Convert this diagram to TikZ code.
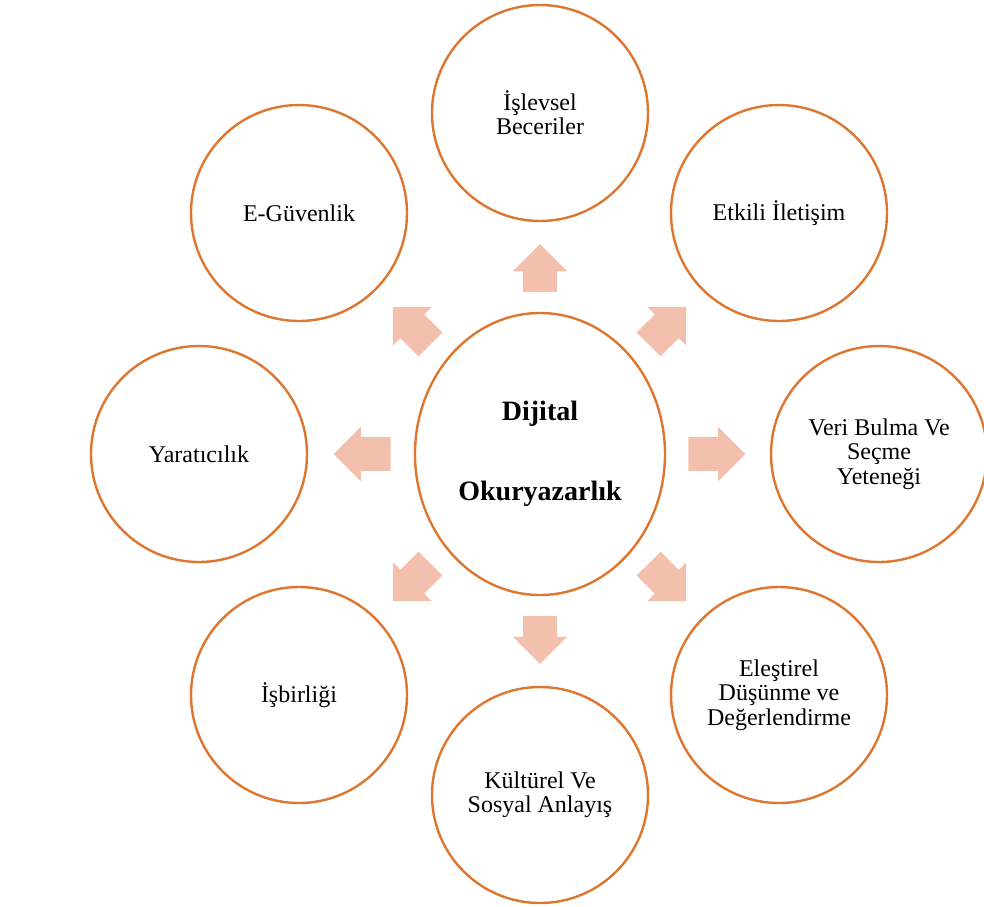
\documentclass[tikz,border=0pt]{standalone}
\usepackage{fontspec}
\setmainfont{Liberation Serif}
\usetikzlibrary{shapes.geometric,shapes.arrows}

\definecolor{ringorange}{RGB}{221,118,48}
\definecolor{flowpink}{RGB}{244,192,174}

\begin{document}
\begin{tikzpicture}[
  x=0.5pt, y=-0.5pt,
  skill/.style={circle, draw=ringorange, line width=1.2pt, minimum size=108pt,
                inner sep=2pt, align=center,
                font=\fontsize{12}{12.2}\selectfont},
  core/.style={ellipse, draw=ringorange, line width=1.2pt,
               minimum width=125pt, minimum height=141pt, inner sep=0pt,
               align=center, font=\fontsize{14}{40}\selectfont\bfseries},
  flow/.style={single arrow, fill=flowpink, draw=none,
               inner xsep=0pt, inner ysep=8.25pt,
               single arrow head extend=5.25pt,
               single arrow tip angle=90, minimum height=26.5pt,
               sloped, allow upside down, xshift=-4.75pt},
]
\useasboundingbox (0,0) rectangle (984,906);

\node[core]  (ctr)  at (540,454) {Dijital\\Okuryazarlık};
\node[skill] (isl)  at (540,113) {İşlevsel\\Beceriler};
\node[skill] (egu)  at (299,213) {E-Güvenlik};
\node[skill] (etk)  at (779,213) {Etkili İletişim};
\node[skill] (yar)  at (199,454) {Yaratıcılık};
\node[skill] (veri) at (879,454) {Veri Bulma Ve\\Seçme\\Yeteneği};
\node[skill] (isb)  at (299,695) {İşbirliği};
\node[skill] (ele)  at (779,695) {Eleştirel\\Düşünme ve\\Değerlendirme};
\node[skill] (kul)  at (540,795) {Kültürel Ve\\Sosyal Anlayış};

%% block arrows sit in the middle of each gap
\path (ctr) -- node[flow, minimum height=24pt]   {} (isl);
\path (ctr) -- node[flow]                        {} (egu);
\path (ctr) -- node[flow]                        {} (etk);
\path (ctr) -- node[flow, minimum height=28.5pt] {} (yar);
\path (ctr) -- node[flow, minimum height=28.5pt] {} (veri);
\path (ctr) -- node[flow]                        {} (isb);
\path (ctr) -- node[flow]                        {} (ele);
\path (ctr) -- node[flow, minimum height=24pt]   {} (kul);
\end{tikzpicture}
\end{document}
